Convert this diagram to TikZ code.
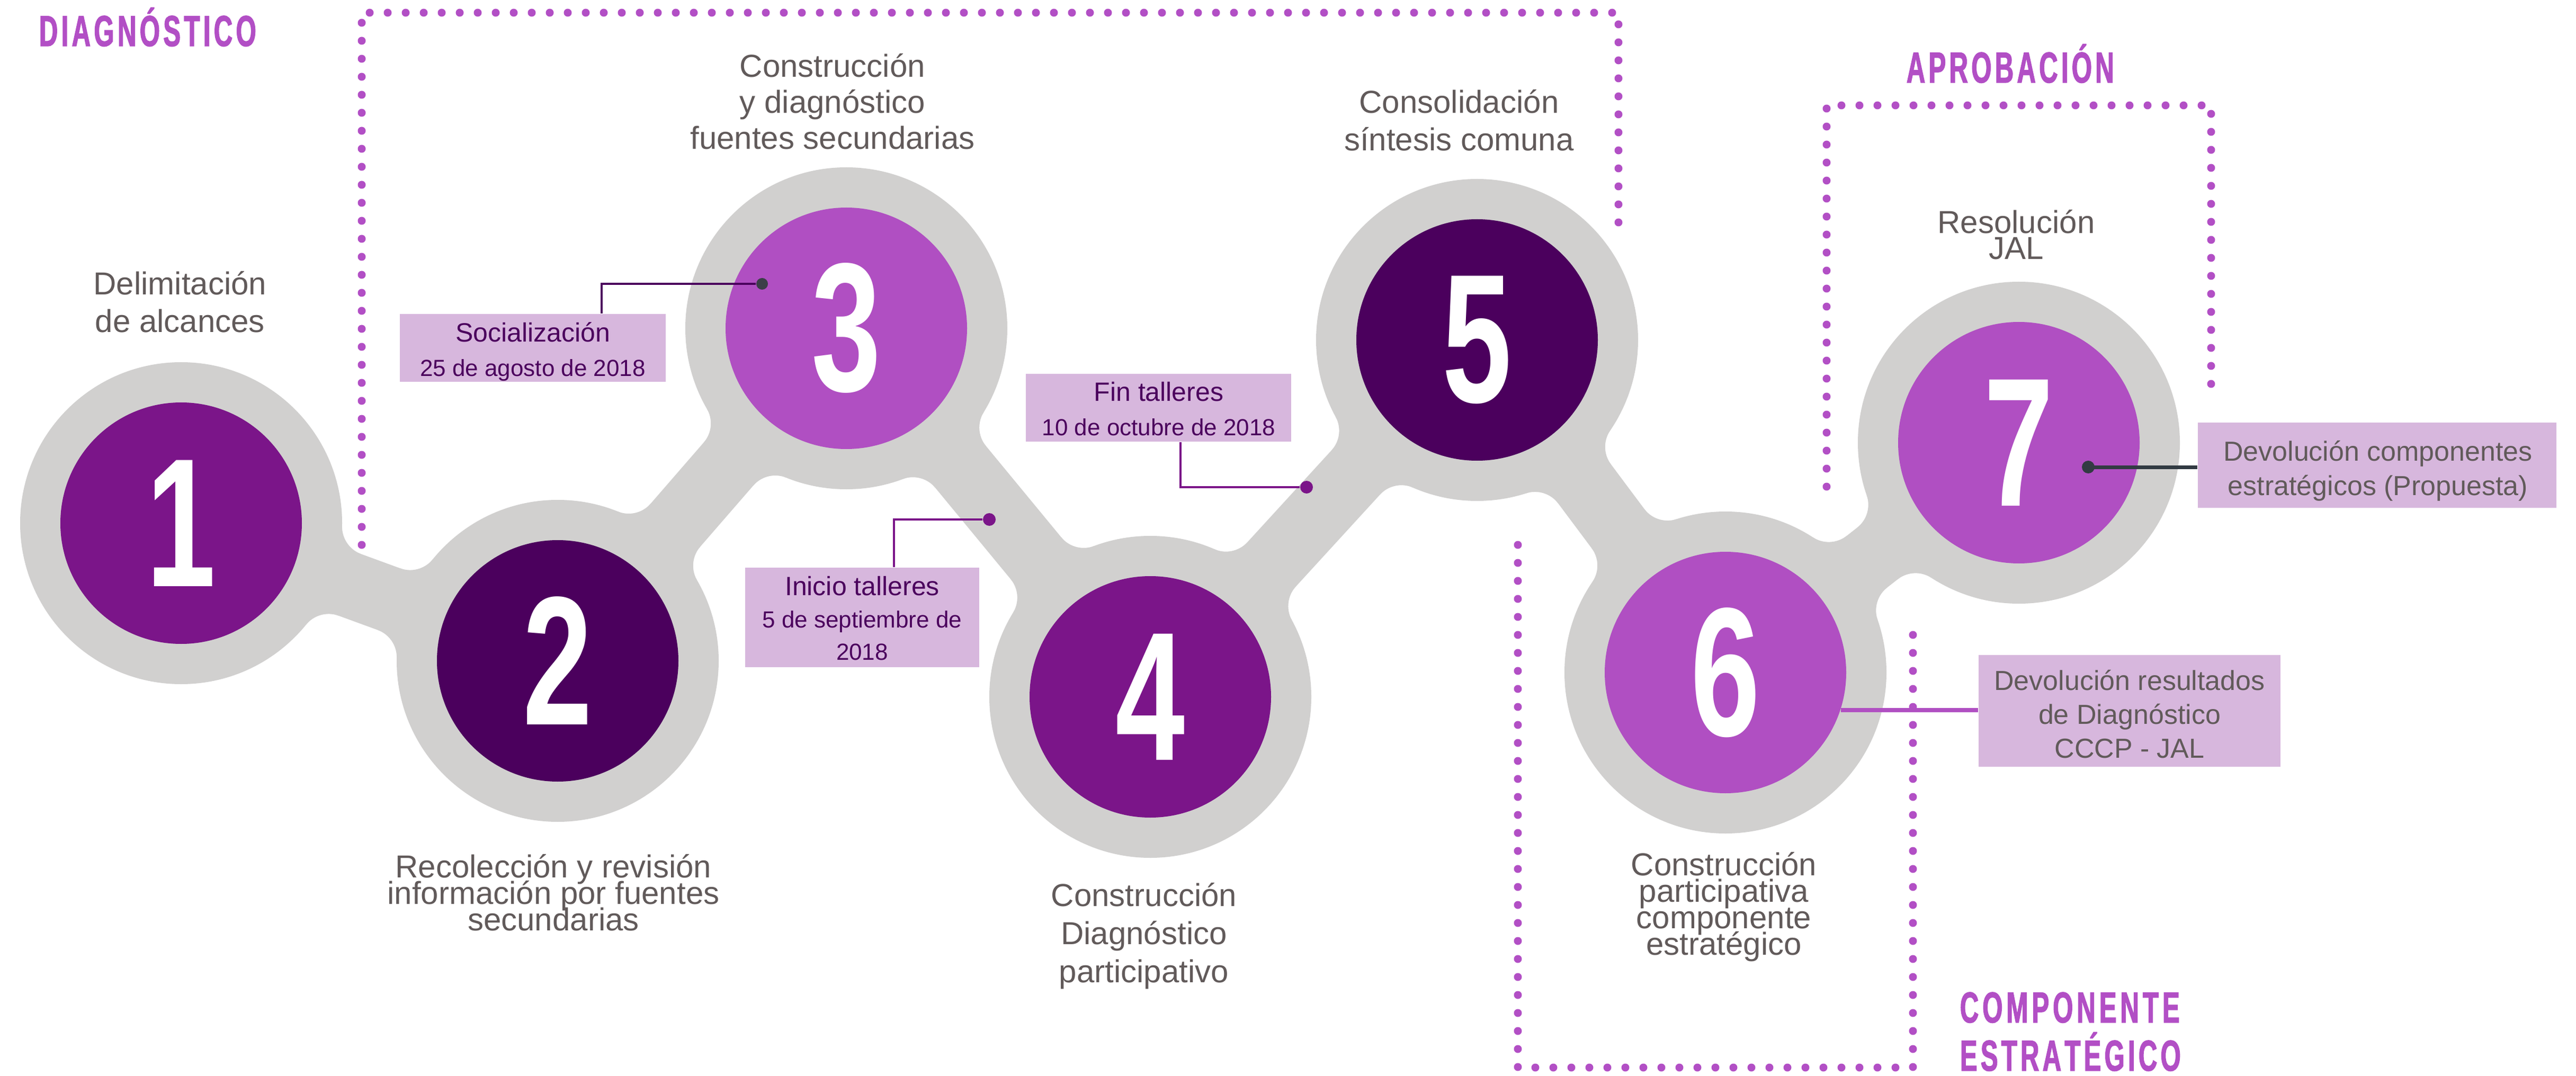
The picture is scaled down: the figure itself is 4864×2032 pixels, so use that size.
\documentclass[tikz,border=0pt]{standalone}
\usepackage{fontspec}
\setmainfont{Liberation Sans}
\newfontfamily\numfont{Liberation Sans}[FakeStretch=0.68]
\newfontfamily\hdrfont{Liberation Sans}[FakeStretch=0.6,FakeBold=1.5]
\definecolor{grayband}{HTML}{D1D0CF}
\definecolor{pmid}{HTML}{7B1589}
\definecolor{pdark}{HTML}{4B005D}
\definecolor{plight}{HTML}{B04FC2}
\definecolor{dotc}{HTML}{B24FC5}
\definecolor{boxc}{HTML}{D7B7DD}
\definecolor{txtg}{HTML}{615A5A}
\definecolor{slate}{HTML}{323B43}
\definecolor{dgray}{HTML}{3B3F48}
\newcommand\tp{\rule{0pt}{0.8em}}
\begin{document}
\begin{tikzpicture}[x=0.25pt,y=-0.25pt,
  ring/.style={circle, fill=grayband, minimum size=152pt, inner sep=0pt},
  numdisc/.style={circle, fill=#1, minimum size=114pt, inner sep=0pt, text=white,
    font=\numfont\bfseries\fontsize{86.6pt}{90pt}\selectfont},
  band/.style={draw=grayband, line width=31pt},
  fillet/.style={fill=grayband},
  dotframe/.style={draw=dotc, line width=3.75pt, line cap=round, dash pattern=on 0pt off 8.5pt},
  lbl/.style={text=txtg, align=center, anchor=north, inner sep=0pt,
    font={\fontsize{15pt}{#1}\selectfont\lineskiplimit=-100pt}},
  boxbg/.style={rectangle, fill=boxc, inner sep=0pt},
  ptxt/.style={text=pdark, align=center, anchor=north, inner sep=0pt,
    font={\fontsize{11pt}{#1}\selectfont\lineskiplimit=-100pt}},
  gtxt/.style={text=txtg, align=center, anchor=north, inner sep=0pt,
    font={\fontsize{13pt}{#1}\selectfont\lineskiplimit=-100pt}},
  hdr/.style={text=dotc, inner sep=0pt, anchor=base west,
    font=\hdrfont\bfseries\fontsize{20.5pt}{24pt}\selectfont},
  leadline/.style={line width=1pt},
  leaddot/.style={circle, inner sep=0pt, minimum size=#1}
]
\useasboundingbox (0,0) rectangle (4864,2032);

% dotted frames
\draw[dotframe] (683,1063) -- (683,24) -- (3056,24) -- (3056,433);
\draw[dotframe] (3449,919) -- (3449,199) -- (4175,199) -- (4175,742);
\draw[dotframe] (2866,1029) -- (2866,2016) -- (3612,2016) -- (3612,1183);

% gray rings
\node[ring] (g1) at (342,988) {};
\node[ring] (g2) at (1053,1248) {};
\node[ring] (g3) at (1598,620) {};
\node[ring] (g4) at (2172,1316) {};
\node[ring] (g5) at (2789,642) {};
\node[ring] (g6) at (3258,1270) {};
\node[ring] (g7) at (3812,836) {};
\draw[band] (g1.center) -- (g2.center);
\draw[band] (g2.center) -- (g3.center);
\draw[band] (g3.center) -- (g4.center);
\draw[band] (g4.center) -- (g5.center);
\draw[band] (g5.center) -- (g6.center);
\draw[band] (g6.center) -- (g7.center);

% concave fillets at the junctions
\foreach \ax/\ay/\bx/\by in {342/988/1053/1248, 1053/1248/342/988,
  1053/1248/1598/620, 1598/620/1053/1248,
  1598/620/2172/1316, 2172/1316/1598/620,
  2172/1316/2789/642, 2789/642/2172/1316,
  2789/642/3258/1270, 3258/1270/2789/642,
  3258/1270/3812/836, 3812/836/3258/1270}{
  \foreach \s in {1,-1}{
    \pgfmathsetmacro\th{atan2(\by-\ay,\bx-\ax)}
    \pgfmathsetmacro\Fx{\ax+359*cos(\th+(\s)*19.02)}
    \pgfmathsetmacro\Fy{\ay+359*sin(\th+(\s)*19.02)}
    \pgfmathsetmacro\pa{\th+(\s)*19.02+180}
    \pgfmathsetmacro\pb{\pa+(\s)*70.98}
    \pgfmathsetmacro\Ax{\ax+339.4*cos(\th)}
    \pgfmathsetmacro\Ay{\ay+339.4*sin(\th)}
    \fill[fillet] (\ax,\ay) -- plot[domain=\pa:\pb, samples=24, variable=\t]
      ({\Fx+55*cos(\t)},{\Fy+55*sin(\t)}) -- (\Ax,\Ay) -- cycle;
  }
}

% numbered discs
\node[numdisc=pmid] (c1) at (g1.center) {1};
\node[numdisc=pdark] (c2) at (g2.center) {2};
\node[numdisc=plight] (c3) at (g3.center) {3};
\node[numdisc=pmid] (c4) at (g4.center) {4};
\node[numdisc=pdark] (c5) at (g5.center) {5};
\node[numdisc=plight] (c6) at (g6.center) {6};
\node[numdisc=plight] (c7) at (g7.center) {7};

% step labels
\node[lbl=17.75pt] (l1) at (340,508) {\tp Delimitación\\de alcances};
\node[lbl=12.5pt] (l2) at (1045,1609) {\tp Recolección y revisión\\información por fuentes\\secundarias};
\node[lbl=17pt] (l3) at (1572,97) {\tp Construcción\\y diagnóstico\\fuentes secundarias};
\node[lbl=18pt] (l4) at (2160,1663) {\tp Construcción\\Diagnóstico\\participativo};
\node[lbl=17.75pt] (l5) at (2755,165) {\tp Consolidación\\síntesis comuna};
\node[lbl=12.5pt] (l6) at (3255,1605) {\tp Construcción\\participativa\\componente\\estratégico};
\node[lbl=12.25pt] (l7) at (3807,392) {\tp Resolución\\JAL};

% boxes
\node[boxbg, minimum width=125.5pt, minimum height=32pt] (b1) at (1006,657) {};
\node[boxbg, minimum width=110.5pt, minimum height=47pt] (b2) at (1628,1166) {};
\node[boxbg, minimum width=125.25pt, minimum height=32pt] (b3) at (2187.5,770) {};
\node[boxbg, minimum width=169.25pt, minimum height=40.25pt] (b4) at (4488.5,878.5) {};
\node[boxbg, minimum width=142.5pt, minimum height=52.75pt] (b5) at (4021,1342.5) {};

\node[ptxt=16.25pt] (t1) at (1006,605) {{\fontsize{12.5pt}{16.25pt}\selectfont\tp Socialización}\\25 de agosto de 2018};
\node[ptxt=15.25pt] (t2) at (1628,1084) {{\fontsize{12.5pt}{15.25pt}\selectfont\tp Inicio talleres}\\5 de septiembre de\\2018};
\node[ptxt=16.25pt] (t3) at (2188,717) {{\fontsize{12.5pt}{16.25pt}\selectfont\tp Fin talleres}\\10 de octubre de 2018};
\node[gtxt=16.25pt] (t4) at (4490,828.4) {\tp Devolución componentes\\estratégicos (Propuesta)};
\node[gtxt=16pt] (t5) at (4021,1261.4) {\tp Devolución resultados\\de Diagnóstico\\CCCP - JAL};

% leaders
\node[leaddot=5.5pt, fill=dgray] (dS) at (1439,536) {};
\draw[leadline, draw=pdark] ([xshift=32.5pt]b1.north) |- (dS);
\node[leaddot=6pt, fill=pmid] (dI) at (1868,981) {};
\draw[leadline, draw=pmid] ([xshift=15pt]b2.north) |- (dI);
\node[leaddot=6pt, fill=pmid] (dF) at (2467,920) {};
\draw[leadline, draw=pmid] ([xshift=10.25pt]b3.south) |- (dF);
\node[leaddot=6pt, fill=slate] (dD) at (3943,882) {};
\draw[draw=slate, line width=1.75pt] (dD.center) -- (dD.center -| b4.west);
\draw[draw=plight, line width=2pt] (c6.342.4) -- (c6.342.4 -| b5.west);

% headers
\node[hdr] (h1) at (73,87) {\makebox[102.5pt][s]{D\hfil I\hfil A\hfil G\hfil N\hfil Ó\hfil S\hfil T\hfil I\hfil C\hfil O}};
\node[hdr] (h2) at (3599,156) {\makebox[98pt][s]{A\hfil P\hfil R\hfil O\hfil B\hfil A\hfil C\hfil I\hfil Ó\hfil N}};
\node[hdr] (h3) at (3700,1931) {\makebox[103.75pt][s]{C\hfil O\hfil M\hfil P\hfil O\hfil N\hfil E\hfil N\hfil T\hfil E}};
\node[hdr] (h4) at (3700,2022) {\makebox[104.25pt][s]{E\hfil S\hfil T\hfil R\hfil A\hfil T\hfil É\hfil G\hfil I\hfil C\hfil O}};
\end{tikzpicture}
\end{document}
